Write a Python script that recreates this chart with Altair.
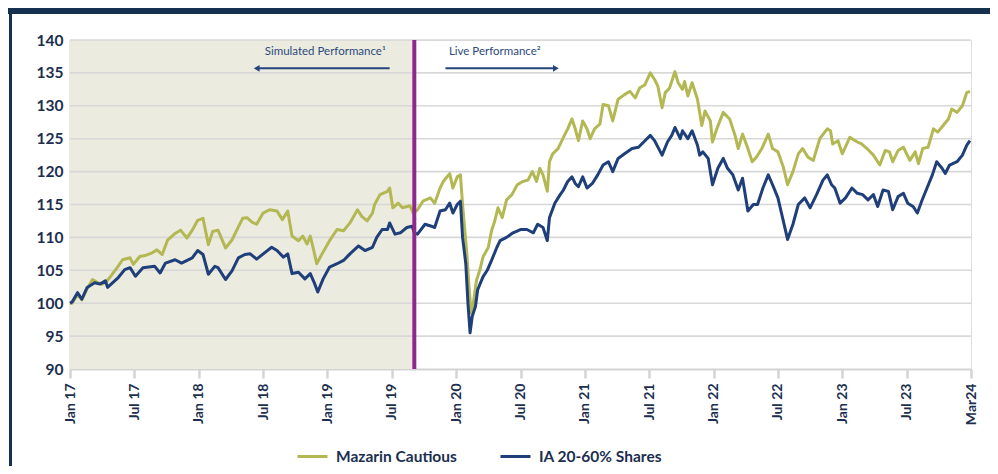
import altair as alt
import pandas as pd

# ---- data (x = months since Jan 2017, y = index value) ----
mazarin_m = [0.0, 0.2, 0.7, 1.1, 1.6, 2.1, 2.5, 3.0, 3.4, 3.7, 4.4, 4.9, 5.6, 5.9, 6.5, 7.1, 7.6, 8.1, 8.6, 9.1,
             9.8, 10.3, 10.9, 11.4, 11.9, 12.4, 12.9, 13.3, 13.8, 14.5, 15.1, 15.7, 16.1, 16.5, 17.0, 17.4, 18.0,
             18.6, 19.3, 19.8, 20.3, 20.7, 21.3, 21.7, 22.1, 22.4, 22.7, 23.0, 23.5, 24.2, 24.9, 25.5, 26.1, 26.8,
             27.2, 27.7, 28.2, 28.4, 28.9, 29.6, 29.8, 30.1, 30.6, 31.0, 31.7, 32.0, 32.4, 32.9, 33.6, 34.0, 34.5,
             34.8, 35.4, 35.7, 36.1, 36.4, 36.6, 37.0, 37.2, 37.4, 37.6, 37.9, 38.2, 38.5, 39.0, 39.3, 39.6, 39.9,
             40.3, 40.7, 41.2, 41.7, 42.2, 42.7, 43.1, 43.5, 43.8, 44.1, 44.5, 44.7, 45.0, 45.5, 46.0, 46.4, 46.8,
             47.1, 47.4, 47.8, 48.2, 48.5, 48.9, 49.4, 49.7, 50.2, 50.6, 51.1, 51.7, 52.2, 52.7, 53.1, 53.6, 54.1,
             54.5, 54.8, 55.2, 55.5, 55.9, 56.4, 56.7, 57.1, 57.3, 57.6, 58.0, 58.5, 58.7, 58.9, 59.2, 59.7, 59.9,
             60.3, 60.9, 61.5, 62.0, 62.3, 62.7, 63.2, 63.6, 64.0, 64.5, 65.1, 65.5, 66.0, 66.5, 66.9, 67.4, 67.9,
             68.3, 68.8, 69.3, 69.9, 70.6, 70.9, 71.1, 71.6, 72.0, 72.7, 73.4, 73.8, 74.3, 74.9, 75.5, 76.0, 76.4,
             76.7, 77.2, 77.7, 78.3, 78.8, 79.1, 79.5, 80.0, 80.5, 80.9, 81.4, 81.9, 82.2, 82.7, 83.2, 83.6, 83.9]
mazarin_v = [100.0, 100.0, 101.3, 100.5, 102.2, 103.6, 103.2, 102.9, 103.3, 103.9, 105.4, 106.6, 106.9, 105.9,
             107.1, 107.3, 107.6, 108.1, 107.4, 109.6, 110.6, 111.1, 109.9, 111.1, 112.6, 112.9, 108.9, 110.9,
             111.1, 108.4, 109.6, 111.6, 112.9, 113.0, 112.3, 112.0, 113.7, 114.2, 114.0, 112.7, 114.0, 110.2,
             109.5, 110.2, 109.0, 110.2, 108.2, 106.0, 107.5, 109.5, 111.2, 111.0, 112.2, 114.2, 113.2, 112.5,
             113.7, 115.0, 116.5, 117.0, 117.5, 114.5, 115.2, 114.5, 114.8, 113.7, 114.2, 115.5, 116.0, 115.2,
             117.5, 118.5, 119.7, 117.5, 119.2, 119.5, 115.0, 107.5, 102.5, 98.5, 100.0, 103.5, 105.0, 107.0,
             108.5, 111.0, 112.5, 114.5, 113.0, 115.7, 116.5, 118.0, 118.5, 118.7, 120.0, 118.5, 120.5, 119.5,
             117.0, 121.5, 122.7, 123.5, 125.2, 126.5, 128.0, 126.5, 124.7, 127.7, 126.5, 125.0, 126.5, 127.2,
             130.2, 130.0, 127.7, 131.0, 131.7, 132.2, 131.2, 132.7, 133.2, 135.0, 134.0, 133.0, 129.7, 132.0,
             132.7, 135.2, 133.5, 132.5, 133.7, 131.5, 133.5, 131.0, 129.0, 127.0, 129.2, 127.7, 124.5, 126.5,
             129.0, 128.0, 125.5, 123.5, 125.7, 123.5, 121.5, 122.2, 123.5, 125.7, 123.5, 123.0, 120.7, 118.0,
             120.0, 122.7, 123.5, 122.2, 121.7, 125.0, 126.5, 126.2, 124.2, 124.7, 122.7, 125.2, 124.5, 124.2,
             123.5, 122.5, 121.0, 123.2, 123.0, 121.5, 123.2, 123.7, 121.7, 123.0, 121.2, 123.5, 123.7, 126.5,
             126.0, 127.0, 128.0, 129.5, 129.0, 130.0, 132.0, 132.2]

ia_m = [0.0, 0.2, 0.7, 1.1, 1.6, 2.3, 2.8, 3.3, 3.5, 4.5, 5.1, 5.6, 6.1, 6.8, 7.9, 8.4, 8.9, 9.8, 10.4, 11.4,
        11.9, 12.4, 12.9, 13.5, 13.8, 14.5, 15.1, 15.7, 16.3, 16.8, 17.4, 18.4, 18.8, 19.3, 19.9, 20.3, 20.7,
        21.3, 21.9, 22.4, 22.8, 23.1, 23.6, 24.2, 24.9, 25.5, 26.1, 26.9, 27.5, 28.2, 28.6, 29.1, 29.6, 29.8,
        30.3, 30.8, 31.4, 31.9, 32.1, 32.4, 33.1, 33.7, 34.0, 34.5, 35.0, 35.4, 35.7, 36.1, 36.4, 36.6, 36.9,
        37.1, 37.3, 37.5, 37.8, 38.0, 38.5, 38.9, 39.3, 39.8, 40.1, 40.7, 41.3, 42.0, 42.6, 43.2, 43.6, 44.1,
        44.5, 44.7, 45.2, 45.7, 46.0, 46.4, 46.8, 47.1, 47.4, 47.8, 48.2, 48.7, 49.2, 49.7, 50.2, 50.6, 51.1,
        51.7, 52.4, 53.0, 53.6, 54.1, 54.5, 55.2, 55.7, 56.1, 56.4, 56.9, 57.1, 57.6, 58.0, 58.5, 58.7, 59.0,
        59.5, 59.9, 60.4, 60.9, 61.3, 61.8, 62.3, 62.7, 63.2, 63.7, 64.1, 64.6, 65.1, 65.5, 66.0, 66.5, 66.9,
        67.4, 67.9, 68.5, 69.0, 69.6, 70.2, 70.6, 71.0, 71.3, 71.8, 72.3, 72.9, 73.4, 73.9, 74.4, 74.9, 75.3,
        75.8, 76.3, 76.7, 77.2, 77.7, 78.1, 78.6, 79.0, 79.4, 79.9, 80.4, 80.8, 81.3, 81.6, 82.0, 82.7, 83.2,
        83.6, 83.9]
ia_v = [100.0, 100.2, 101.6, 100.6, 102.4, 103.1, 102.9, 103.4, 102.4, 103.9, 105.1, 105.4, 104.1, 105.4, 105.6,
        104.6, 106.1, 106.6, 106.1, 106.9, 108.0, 107.4, 104.4, 105.6, 105.4, 103.6, 104.9, 106.9, 107.4, 107.5,
        106.7, 108.0, 108.5, 108.0, 107.0, 107.5, 104.5, 104.7, 103.7, 104.5, 103.0, 101.7, 103.7, 105.5, 106.0,
        106.5, 107.5, 108.7, 108.0, 108.5, 110.0, 111.2, 111.2, 112.2, 110.5, 110.7, 111.5, 111.7, 110.7, 110.5,
        112.0, 111.7, 111.5, 114.0, 114.2, 115.2, 113.7, 115.0, 115.5, 110.0, 106.0, 100.0, 95.5, 98.0, 99.5,
        102.0, 104.0, 105.0, 106.5, 108.5, 109.5, 110.0, 110.7, 111.2, 111.2, 110.7, 112.0, 111.5, 109.5, 113.0,
        115.2, 116.5, 117.2, 118.5, 119.2, 118.2, 117.7, 119.2, 117.5, 118.2, 119.5, 121.0, 121.5, 120.0, 122.0,
        122.7, 123.5, 123.7, 124.7, 125.5, 124.7, 122.5, 124.5, 125.5, 126.7, 125.0, 126.2, 125.0, 126.2, 124.0,
        122.5, 123.0, 122.0, 118.0, 120.5, 122.0, 120.5, 119.5, 117.2, 119.0, 114.0, 115.0, 115.0, 117.5, 119.5,
        118.0, 116.0, 112.5, 109.7, 112.0, 115.0, 116.0, 114.5, 116.5, 118.7, 119.5, 118.0, 117.5, 115.2, 116.0,
        117.5, 116.7, 116.5, 115.7, 116.5, 114.7, 117.2, 117.0, 114.2, 116.2, 116.7, 115.2, 114.7, 113.7, 115.5,
        117.5, 119.5, 121.5, 120.5, 119.7, 121.0, 121.5, 122.5, 124.0, 124.7]

series_names = ["Mazarin Cautious", "IA 20-60% Shares"]
series_colors = ["#b3b853", "#1f3f7a"]

tick_months = [0, 6, 12, 18, 24, 30, 36, 42, 48, 54, 60, 66, 72, 78, 84]
tick_labels = ["Jan 17", "Jul 17", "Jan 18", "Jul 18", "Jan 19", "Jul 19", "Jan 20", "Jul 20",
               "Jan 21", "Jul 21", "Jan 22", "Jul 22", "Jan 23", "Jul 23", "Mar24"]
y_ticks = [90, 95, 100, 105, 110, 115, 120, 125, 130, 135, 140]

live_start = 32.1          # launch of live performance (months)
sim_label = "Simulated Performance\u00b9"
live_label = "Live Performance\u00b2"
sim_text_pos = [23.8, 138.2]
live_text_pos = [39.6, 138.2]
sim_arrow = [17.4, 29.8, 135.7]    # head, tail, level
live_arrow = [45.3, 35.0, 135.7]

# ---- build ----
W, H = 901, 329
NAVY = "#1c2f4f"
FONT = "Lato"

rows = [{"m": m, "v": v, "s": series_names[0], "o": 0} for m, v in zip(mazarin_m, mazarin_v)]
rows += [{"m": m, "v": v, "s": series_names[1], "o": 1} for m, v in zip(ia_m, ia_v)]
df = pd.DataFrame(rows)

xs = alt.Scale(domain=[0, 84], nice=False, zero=False)
ys = alt.Scale(domain=[90, 140], nice=False, zero=False)

label_expr = "[" + ",".join("'%s'" % t for t in tick_labels) + "][round(datum.value/6)]"

XAX = alt.Axis(values=tick_months, labelExpr=label_expr, labelAngle=270, title=None, grid=False,
               labelFont=FONT, labelFontSize=14, labelFontWeight="bold", labelColor=NAVY,
               labelPadding=5, tickSize=9, tickWidth=2.5, tickColor="#d4d4d4",
               domainColor="#d4d4d4", domainWidth=2, labelBound=False, labelOverlap=False)
YAX = alt.Axis(values=y_ticks, title=None, grid=False, ticks=False,
               labelFont=FONT, labelFontSize=15.5, labelFontWeight="bold", labelColor=NAVY,
               labelPadding=7, domainColor="#d4d4d4", domainWidth=2, labelOverlap=False)


def X(f):
    return alt.X(f, scale=xs, axis=XAX)


def Y(f):
    return alt.Y(f, scale=ys, axis=YAX)


shade = alt.Chart(pd.DataFrame({"a": [0], "b": [live_start], "lo": [90], "hi": [140]})).mark_rect(
    color="#ebebe0").encode(x=X("a:Q"), x2="b:Q", y=Y("lo:Q"), y2="hi:Q")

grid = alt.Chart(pd.DataFrame({"g": y_ticks[1:]})).mark_rule(color="#d8d8d8", strokeWidth=1.6).encode(
    y=Y("g:Q"))

lines = alt.Chart(df).mark_line(strokeWidth=3, strokeJoin="round").encode(
    x=X("m:Q"),
    y=Y("v:Q"),
    color=alt.Color("s:N", scale=alt.Scale(domain=series_names, range=series_colors),
                    legend=alt.Legend(orient="none", legendX=226, legendY=400, direction="horizontal",
                                      title=None, symbolType="stroke", symbolSize=900,
                                      symbolStrokeWidth=3, labelFont=FONT, labelFontSize=15.5,
                                      labelFontWeight="bold", labelColor=NAVY, columnPadding=37,
                                      labelOffset=7)),
    order="o:Q",
    detail="s:N",
)

divider = alt.Chart(pd.DataFrame({"x": [live_start]})).mark_rule(color="#8e288d", strokeWidth=4).encode(
    x=X("x:Q"))

ann = pd.DataFrame({"x": [sim_text_pos[0], live_text_pos[0]], "y": [sim_text_pos[1], live_text_pos[1]],
                    "t": [sim_label, live_label]})
ann_text = alt.Chart(ann).mark_text(font=FONT, fontSize=11.5, color="#2c4a7c").encode(
    x=X("x:Q"), y=Y("y:Q"), text="t:N")

arr = pd.DataFrame({"a": [sim_arrow[0], live_arrow[0]], "b": [sim_arrow[1], live_arrow[1]],
                    "y": [sim_arrow[2], live_arrow[2]], "shape": ["triangle-left", "triangle-right"]})
arr_line = alt.Chart(arr).mark_rule(color="#24457c", strokeWidth=2).encode(
    x=X("a:Q"), x2="b:Q", y=Y("y:Q"))
arr_head = alt.Chart(arr).mark_point(filled=True, color="#24457c", size=45, opacity=1).encode(
    x=X("a:Q"), y=Y("y:Q"), shape=alt.Shape("shape:N", scale=None))

# decorative frame (top band and left border)
top_band = alt.Chart(pd.DataFrame({"k": [0]})).mark_rule(color="#16304f", strokeWidth=6).encode(
    x=alt.value(-62), x2=alt.value(W + 19), y=alt.value(-29))
left_band = alt.Chart(pd.DataFrame({"k": [0]})).mark_rule(color="#16304f", strokeWidth=3).encode(
    x=alt.value(-59.5), y=alt.value(-32), y2=alt.value(H + 97))

chart = alt.layer(shade, grid, lines, divider, arr_line, arr_head, ann_text, top_band, left_band).properties(
    width=W, height=H,
    autosize=alt.AutoSizeParams(type="none"),
    padding={"left": 62, "top": 32, "right": 19, "bottom": 97},
).configure_view(stroke=None).configure(background="white")

chart.save("out.html", embed_options={"renderer": "svg", "actions": False})
